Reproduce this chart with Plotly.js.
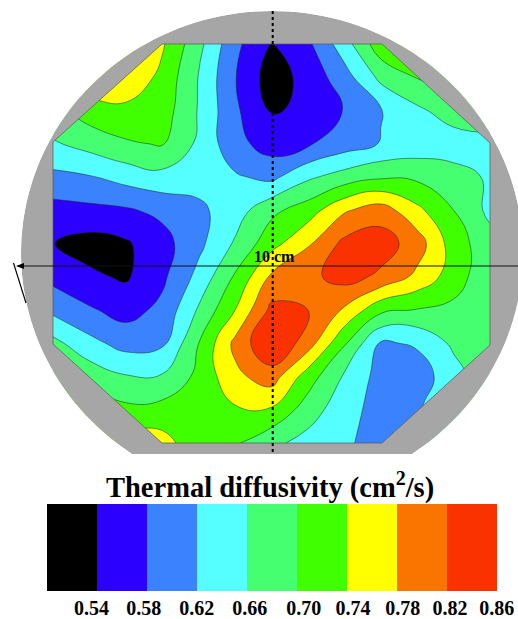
<!DOCTYPE html>
<html>
<head>
<meta charset="utf-8">
<script src="https://cdn.plot.ly/plotly-3.0.1.min.js"></script>
<style>html,body{margin:0;padding:0;background:#fff}</style>
</head>
<body>
<div id="chart" style="width:518px;height:619px"></div>
<script>
// Measurement grid (picture coordinates)
const gridX = [53, 89.4, 125.8, 162.3, 198.7, 235.1, 271.5, 307.9, 344.3, 380.8, 417.2, 453.6, 490];
const gridY = [44, 77.25, 110.5, 143.75, 177, 210.25, 243.5, 276.75, 310, 343.25, 376.5, 409.75, 443];
// Thermal diffusivity (cm2/s), one row per gridY
const row00 = [.775, .775, .775, .745, .672, .59, .538, .572, .642, .725, .77, .775, .775];
const row01 = [.775, .775, .77, .73, .658, .582, .52, .554, .603, .67, .702, .72, .74];
const row02 = [.69, .72, .73, .72, .657, .587, .537, .546, .582, .618, .652, .68, .70];
const row03 = [.655, .675, .695, .703, .652, .593, .562, .575, .60, .622, .635, .64, .64];
const row04 = [.61, .617, .635, .647, .635, .625, .61, .653, .677, .694, .692, .675, .655];
const row05 = [.565, .57, .575, .59, .612, .64, .69, .72, .775, .80, .75, .70, .65];
const row06 = [.541, .525, .535, .565, .61, .665, .725, .775, .83, .84, .80, .72, .675];
const row07 = [.568, .547, .535, .572, .632, .705, .787, .81, .835, .812, .77, .72, .67];
const row08 = [.61, .585, .565, .59, .665, .74, .83, .82, .775, .71, .698, .69, .685];
const row09 = [.672, .632, .605, .612, .70, .79, .86, .80, .705, .615, .625, .668, .70];
const row10 = [.72, .685, .663, .664, .71, .77, .80, .72, .655, .605, .60, .643, .69];
const row11 = [.76, .74, .71, .715, .73, .735, .735, .68, .635, .605, .615, .65, .68];
const row12 = [.80, .80, .77, .755, .715, .705, .67, .645, .626, .605, .61, .64, .67];
const zGrid = [row00,row01,row02,row03,row04,row05,row06,row07,row08,row09,row10,row11,row12];

// Colour key
const levelColors = ['#000000','#2b00ff','#3b82ff','#55ffff','#45ff70','#40ff00','#ffff00','#f97500','#fa3200'];
const keyCenters = [.52,.56,.60,.64,.68,.72,.76,.80,.84];
const keyTickText = ['0.54','0.58','0.62','0.66','0.70','0.74','0.78','0.82','0.86'];
const keyTickPos = [.5356,.5773,.6197,.6622,.7054,.7447,.7847,.8223,.8598];
const titleText = '<b>Thermal diffusivity (cm<sup>2</sup>/s)</b>';

const serif = 'Liberation Serif, serif';
const scale = [];
levelColors.forEach((c,i)=>{ scale.push([i/levelColors.length,c]); scale.push([(i+1)/levelColors.length,c]); });

// Specimen outline
const octagon = [[162,44],[382,44],[490,143],[490,345],[382,443],[162,443],[53,344],[53,142]];
const disc = {cx:272, cy:253, rx:251, ry:242};
const toPath = pts => 'M' + pts.map(p=>p[0]+','+p[1]).join('L') + 'Z';
const ellipse = [];
for (let a=0;a<360;a+=2){ const t=a*Math.PI/180; ellipse.push([disc.cx+disc.rx*Math.cos(t), disc.cy+disc.ry*Math.sin(t)]); }
const pagePts = [[0,0],[530,0],[530,460],[0,460]];
const arrowHead = [[16,266],[24,263],[24,269]];

const traces = [
 {type:'contour', x:gridX, y:gridY, z:zGrid, xaxis:'x', yaxis:'y', zmin:.5, zmax:.86,
  colorscale:scale, showscale:false, hoverinfo:'skip',
  autocontour:false, contours:{start:.54,end:.82,size:.04,coloring:'fill',showlines:true},
  line:{color:'rgba(25,35,25,0.85)',width:.6,smoothing:1.3}},
 {type:'heatmap', x:keyCenters, y:[0], z:[keyCenters], xaxis:'x2', yaxis:'y2', zmin:.5, zmax:.86,
  colorscale:scale, showscale:false, hoverinfo:'skip'}
];

const layout = {
 width:518, height:619, margin:{l:0,r:0,t:0,b:0}, paper_bgcolor:'#fff', plot_bgcolor:'#fff', showlegend:false,
 xaxis:{domain:[0,1], range:[0,518], visible:false, fixedrange:true},
 yaxis:{domain:[1-454/619,1], range:[454,0], visible:false, fixedrange:true},
 xaxis2:{domain:[47/518,497/518], range:[.5,.86], anchor:'y2', showgrid:false, zeroline:false, showline:false, ticks:'',
   tickmode:'array', tickvals:keyTickPos, ticktext:keyTickText, ticklabelstandoff:3, ticklabeloverflow:'allow',
   tickfont:{family:serif,size:20,color:'#000',weight:'bold'}, fixedrange:true},
 yaxis2:{domain:[28/619,115/619], anchor:'x2', visible:false, fixedrange:true},
 shapes:[
  {type:'path', xref:'x', yref:'y', layer:'above', path:toPath(ellipse)+toPath(octagon), fillrule:'evenodd', fillcolor:'#a6a6a6', line:{width:0}},
  {type:'path', xref:'x', yref:'y', layer:'above', path:toPath(pagePts)+toPath(ellipse), fillrule:'evenodd', fillcolor:'#fff', line:{width:0}},
  {type:'path', xref:'x', yref:'y', layer:'above', path:toPath(octagon), fillcolor:'rgba(0,0,0,0)', line:{color:'#555',width:.7}},
  {type:'line', xref:'x', yref:'y', layer:'above', x0:272.7,x1:272.7,y0:11,y1:454, line:{color:'#000',width:2,dash:'dot'}},
  {type:'line', xref:'x', yref:'y', layer:'above', x0:18,x1:518,y0:266,y1:266, line:{color:'#111',width:1}},
  {type:'path', xref:'x', yref:'y', layer:'above', path:toPath(arrowHead), fillcolor:'#000', line:{width:0}},
  {type:'line', xref:'x', yref:'y', layer:'above', x0:13.5,x1:26,y0:263,y1:303, line:{color:'#000',width:1.2}}
 ],
 annotations:[
  {xref:'x',yref:'y',x:274,y:256,text:'<b>10 cm</b>',showarrow:false,font:{family:serif,size:16,color:'#000'}},
  {xref:'paper',yref:'paper',x:270/518,y:1-485/619,yanchor:'middle',text:titleText,showarrow:false,font:{family:serif,size:28.5,color:'#000'}}
 ]
};
Plotly.newPlot('chart', traces, layout, {staticPlot:true, displayModeBar:false});
</script>
</body>
</html>
